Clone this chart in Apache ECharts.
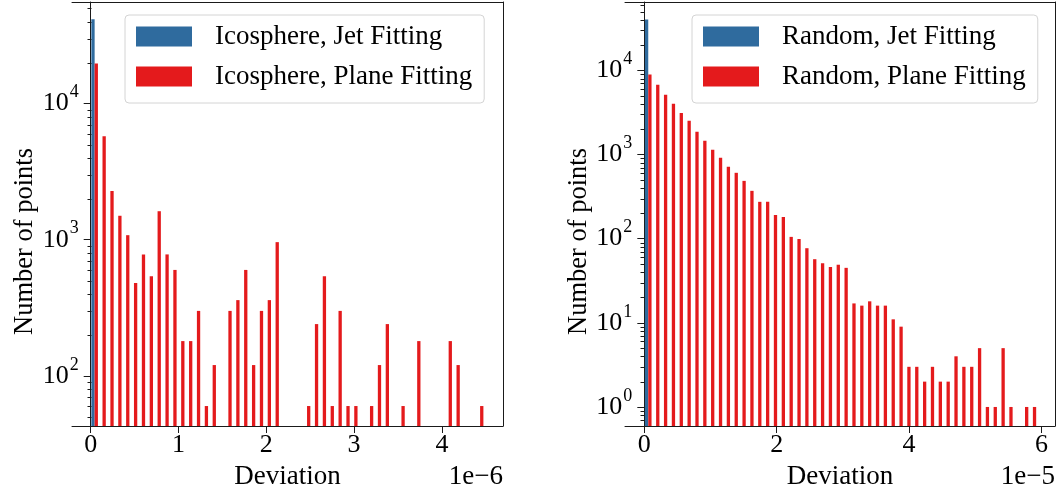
<!DOCTYPE html>
<html><head><meta charset="utf-8">
<script src="https://cdn.jsdelivr.net/npm/echarts@6/dist/echarts.min.js"></script>
<style>html,body{margin:0;padding:0;background:#fff}#c{width:1058px;height:492px}</style>
</head><body><div id="c"></div>
<script>
// ---------- data ----------
const binCount = 50;
const icoRange = [0, 4.48];      // deviation, units of 1e-6
const randRange = [0, 5.93];     // deviation, units of 1e-5
const seriesNames = ['Icosphere, Jet Fitting', 'Icosphere, Plane Fitting', 'Random, Jet Fitting', 'Random, Plane Fitting'];
const icoJet = [41600];          // all jet-fitting points fall in the first bin
const icoPlane = [19700, 5760, 2280, 1500, 1080, 480, 780, 540, 1620, 780,
                  600, 180, 180, 300, 60, 120, null, 300, 360, 600,
                  120, 300, 360, 960, null, null, null, 60, 240, 540,
                  60, 300, 60, 60, null, 60, 120, 240, null, 60,
                  null, 180, null, null, null, 180, 120, null, null, 60];
const randJet = [40100];
const randPlane = [8900, 6760, 5140, 4020, 3110, 2520, 1860, 1455, 1138, 914,
                   715, 606, 486, 370, 274, 274, 191, 181, 105, 99,
                   77, 57, 51, 46, 49, 45, 17, 16, 18, 16,
                   16, 11, 9, 3, 3, 2, 3, 2, 2, 4,
                   3, 3, 5, 1, 1, 5, 1, null, 1, 1];
const icoXTicks = [0, 1, 2, 3, 4];
const randXTicks = [0, 2, 4, 6];
const icoYTicks = [100, 1000, 10000];
const randYTicks = [1, 10, 100, 1000, 10000];
const xLabel = 'Deviation';
const yLabel = 'Number of points';
const icoOffsetText = '1e\u22126';
const randOffsetText = '1e\u22125';

// ---------- style ----------
const FONT = 'Liberation Serif';
const BLUE = '#2f6b9e', RED = '#e41a1c';
const AXC = '#1a1a1a';
const AX = {color: AXC, width: 1};
const W = 1058;

function binData(vals, range) {
  const w = (range[1] - range[0]) / binCount;
  return Array.from({length: binCount}, (_, i) => [range[0] + (i + 0.5) * w, vals[i] == null ? '-' : vals[i]]);
}
function minorTicks(lo, hi) {
  const out = [];
  for (let e = Math.floor(Math.log10(lo)); e <= Math.ceil(Math.log10(hi)); e++) {
    for (let k = 2; k <= 9; k++) { const v = k * Math.pow(10, e); if (v >= lo && v <= hi) out.push(v); }
  }
  return out;
}
const supRich = {
  b: {fontFamily: FONT, fontSize: 26, lineHeight: 26, color: '#000', verticalAlign: 'bottom'},
  s: {fontFamily: FONT, fontSize: 18, lineHeight: 18, color: '#000', verticalAlign: 'bottom', padding: [0, 0, 15, 1]}
};
function logFmt(v) { return '{b|10}{s|' + Math.round(Math.log10(v)) + '}'; }

const charts = [
  {grid: {left: 72, right: W - 503, top: 2, bottom: 66}, x: [-0.213, 4.696], y: [42.8, 55800],
   xt: icoXTicks, yt: icoYTicks, range: icoRange, jet: icoJet, plane: icoPlane, names: [seriesNames[0], seriesNames[1]],
   legendLeft: 125, offText: icoOffsetText, offRight: 503},
  {grid: {left: 625, right: W - 1055, top: 2, bottom: 66}, x: [-0.292, 6.205], y: [0.594, 64900],
   xt: randXTicks, yt: randYTicks, range: randRange, jet: randJet, plane: randPlane, names: [seriesNames[2], seriesNames[3]],
   legendLeft: 692, offText: randOffsetText, offRight: 1055}
];

const option = {animation: false, backgroundColor: '#fff', grid: [], xAxis: [], yAxis: [], series: [], legend: [], graphic: []};
charts.forEach((c, g) => {
  option.grid.push(Object.assign({outerBoundsMode: 'none', containLabel: false}, c.grid));
  // the left spine sits at deviation = 0, inside the plot frame
  const gridW = W - c.grid.left - c.grid.right;
  const spineOffset = -(0 - c.x[0]) / (c.x[1] - c.x[0]) * gridW;
  const xb = option.xAxis.length;
  option.xAxis.push({
    type: 'value', gridIndex: g, min: c.x[0], max: c.x[1], position: 'bottom',
    axisLine: {onZero: false, lineStyle: AX},
    axisTick: {customValues: c.xt, length: 7, lineStyle: AX},
    axisLabel: {customValues: c.xt, fontFamily: FONT, fontSize: 26, color: '#000', margin: 6, formatter: v => String(v)},
    splitLine: {show: false},
    name: xLabel, nameLocation: 'middle', nameGap: 37,
    nameTextStyle: {fontFamily: FONT, fontSize: 27, color: '#000'}
  });
  option.xAxis.push({
    type: 'value', gridIndex: g, min: c.x[0], max: c.x[1], position: 'top',
    axisLine: {onZero: false, lineStyle: AX}, axisTick: {show: false}, axisLabel: {show: false}, splitLine: {show: false}
  });
  const yb = option.yAxis.length;
  option.yAxis.push({
    type: 'log', gridIndex: g, min: c.y[0], max: c.y[1], startValue: c.y[0], position: 'left', offset: spineOffset,
    axisLine: {onZero: false, lineStyle: AX},
    axisTick: {customValues: c.yt, length: 7, lineStyle: AX},
    axisLabel: {customValues: c.yt, margin: 12, formatter: logFmt, rich: supRich},
    splitLine: {show: false}, minorTick: {show: false},
    name: yLabel, nameLocation: 'middle', nameRotate: 90, nameGap: 51,
    nameTextStyle: {fontFamily: FONT, fontSize: 26.5, color: '#000', padding: [0, 55, 0, 0]}
  });
  option.yAxis.push({
    type: 'log', gridIndex: g, min: c.y[0], max: c.y[1], position: 'right',
    axisLine: {onZero: false, lineStyle: AX}, axisTick: {show: false}, axisLabel: {show: false}, splitLine: {show: false}
  });
  option.series.push({
    type: 'bar', name: c.names[0], xAxisIndex: xb, yAxisIndex: yb, barGap: '0%', barWidth: 3.3,
    itemStyle: {color: BLUE}, data: binData(c.jet, c.range)
  });
  option.series.push({
    type: 'bar', name: c.names[1], xAxisIndex: xb, yAxisIndex: yb, barGap: '0%', barWidth: 3.3,
    itemStyle: {color: RED}, data: binData(c.plane, c.range)
  });
  // minor log ticks on the spine (x = 0), placed through the axis scales
  option.series.push({
    type: 'custom', name: 'minor-ticks-' + g, xAxisIndex: xb, yAxisIndex: yb, silent: true, z: 5, clip: false,
    data: minorTicks(c.y[0], c.y[1]).map(v => [0, v]),
    renderItem: (params, api) => {
      const p = api.coord([api.value(0), api.value(1)]);
      const x = Math.round(p[0]) + 0.5, y = Math.round(p[1]) + 0.5;
      return {type: 'line', shape: {x1: x - 4, y1: y, x2: x, y2: y}, style: {stroke: AXC, lineWidth: 1}};
    }
  });
  option.legend.push({
    data: c.names, left: c.legendLeft, top: 15, orient: 'vertical', icon: 'rect',
    itemWidth: 56, itemHeight: 20, itemGap: 13, selectedMode: false,
    padding: [8, 12, 13, 11], backgroundColor: 'rgba(255,255,255,0.8)',
    borderColor: '#d4d4d4', borderWidth: 1, borderRadius: 4,
    textStyle: {fontFamily: FONT, fontSize: 27, color: '#000', padding: [0, 0, 0, 18]}
  });
  option.graphic.push({
    type: 'text', x: c.offRight, y: 477,
    style: {text: c.offText, font: '27px "Liberation Serif"', fill: '#000',
            align: 'right', verticalAlign: 'middle', textAlign: 'right', textVerticalAlign: 'middle'}
  });
});

const chart = echarts.init(document.getElementById('c'), null, {renderer: 'canvas'});
chart.setOption(option);
</script></body></html>
